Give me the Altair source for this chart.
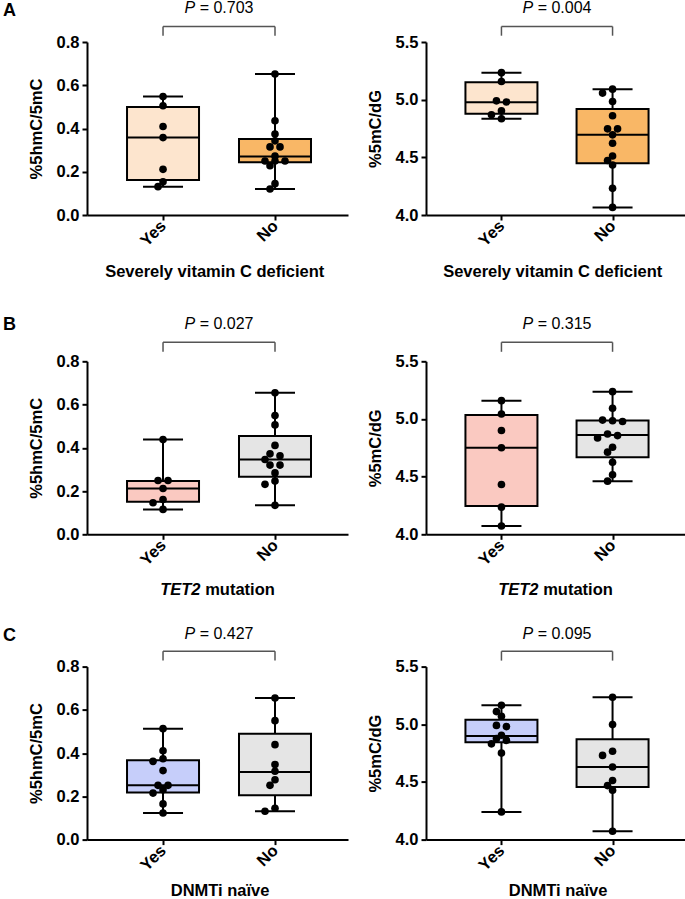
import altair as alt
import pandas as pd

FONT = "Liberation Sans"
categories = ["Yes", "No"]

# ---------------- data ----------------
# %5hmC/5mC
a_hmc_yes = [0.548, 0.505, 0.409, 0.358, 0.211, 0.154, 0.131]
a_hmc_no = [0.652, 0.436, 0.374, 0.343, 0.315, 0.315, 0.272, 0.250, 0.250, 0.250, 0.228, 0.145, 0.120]
b_hmc_yes = [0.438, 0.249, 0.249, 0.212, 0.161, 0.146, 0.115]
b_hmc_no = [0.654, 0.549, 0.506, 0.411, 0.372, 0.363, 0.346, 0.320, 0.320, 0.284, 0.246, 0.231, 0.134]
c_hmc_yes = [0.513, 0.411, 0.374, 0.362, 0.319, 0.251, 0.251, 0.231, 0.215, 0.165, 0.123]
c_hmc_no = [0.655, 0.550, 0.439, 0.347, 0.316, 0.277, 0.251, 0.145, 0.131]
# %5mC/dG
a_mc_yes = [5.234, 5.158, 4.990, 4.980, 4.903, 4.869, 4.834]
a_mc_no = [5.091, 5.057, 4.984, 4.860, 4.747, 4.747, 4.695, 4.622, 4.512, 4.472, 4.434, 4.231, 4.066]
b_mc_yes = [5.159, 5.043, 4.900, 4.750, 4.432, 4.236, 4.072]
b_mc_no = [5.237, 5.093, 4.990, 4.984, 4.978, 4.870, 4.856, 4.836, 4.755, 4.712, 4.625, 4.516, 4.461]
c_mc_yes = [5.164, 5.110, 5.069, 4.990, 4.980, 4.905, 4.876, 4.860, 4.830, 4.750, 4.240]
c_mc_no = [5.234, 4.997, 4.766, 4.730, 4.630, 4.512, 4.468, 4.428, 4.072]

# box statistics (q1, median, q3)
a_hmc_box = [(0.162, 0.358, 0.500), (0.244, 0.270, 0.352)]
b_hmc_box = [(0.150, 0.212, 0.247), (0.266, 0.346, 0.454)]
c_hmc_box = [(0.218, 0.251, 0.367), (0.205, 0.313, 0.490)]
a_mc_box = [(4.877, 4.978, 5.152), (4.449, 4.695, 4.918)]
b_mc_box = [(4.245, 4.750, 5.035), (4.669, 4.862, 4.986)]
c_mc_box = [(4.844, 4.899, 5.040), (4.457, 4.630, 4.870)]

p_values = {"A": ["0.703", "0.004"], "B": ["0.027", "0.315"], "C": ["0.427", "0.095"]}
x_titles = {
    "A": [("Severely vitamin C deficient", False)],
    "B": [("TET2", True), ("mutation", False)],
    "C": [("DNMTi naïve", False)],
}
fills = {
    "A": ["#FDE5CE", "#F9B766"],
    "B": ["#FAC9C1", "#E5E5E5"],
    "C": ["#C6CEFA", "#E5E5E5"],
}
metrics = {
    "hmc": {"title": "%5hmC/5mC", "domain": [0.0, 0.8], "ticks": [0.0, 0.2, 0.4, 0.6, 0.8]},
    "mc": {"title": "%5mC/dG", "domain": [4.0, 5.5], "ticks": [4.0, 4.5, 5.0, 5.5]},
}
groups = {
    ("A", "hmc"): (a_hmc_yes, a_hmc_no, a_hmc_box),
    ("A", "mc"): (a_mc_yes, a_mc_no, a_mc_box),
    ("B", "hmc"): (b_hmc_yes, b_hmc_no, b_hmc_box),
    ("B", "mc"): (b_mc_yes, b_mc_no, b_mc_box),
    ("C", "hmc"): (c_hmc_yes, c_hmc_no, c_hmc_box),
    ("C", "mc"): (c_mc_yes, c_mc_no, c_mc_box),
}

# ---------------- layout / style ----------------
XMIN, XMAX = -0.679, 1.652
W_L, W_R = 261, 259
H = 173
ROW_GAP = 132.3
BOX_HALF_PX = 36
CAP_HALF_PX = 20
DOT_SIZE = 58
TICK_FONT = 16.5
# top inset of the plot inside its cell (row B is pushed down a little)
row_cfg = {
    "A": {"inset": 0, "p_base": -29, "br_top": -15.5, "br_bot": -6.3, "letter_base": -25.7, "xt": 62},
    "B": {"inset": 14, "p_base": -32.5, "br_top": -19, "br_bot": -9.5, "letter_base": -31, "xt": 61},
    "C": {"inset": 0, "p_base": -27.5, "br_top": -15.3, "br_bot": -6.0, "letter_base": -25.3, "xt": 56.5},
}

REG = {"P": 667, "=": 584, " ": 278, ".": 278}
BOLD = {"T": 611, "E": 667, "2": 556, " ": 278, "m": 889, "u": 611, "t": 333,
        "a": 556, "i": 278, "o": 611, "n": 611}


def tw(s, size, table):
    return sum(table.get(ch, 556) for ch in s) * size / 1000.0


def swarm_offsets(vals, ppu_y, d=6.6):
    ys = [v * ppu_y for v in vals]
    order = sorted(range(len(vals)), key=lambda i: -vals[i])
    offs = [0.0] * len(vals)
    placed = []
    i = 0
    while i < len(order):
        j = i
        while j + 1 < len(order) and abs(ys[order[j + 1]] - ys[order[i]]) < 2.5:
            j += 1
        grp = order[i:j + 1]
        k = len(grp)
        if k > 1:
            for n, idx in enumerate(grp):
                offs[idx] = (n - (k - 1) / 2.0) * 10.0
                placed.append((offs[idx], ys[idx]))
        else:
            idx = grp[0]
            chosen = 0.0
            for c in [0, -5, 5, -10, 10, -15, 15, -20, 20]:
                if all((c - px) ** 2 + (ys[idx] - py) ** 2 >= d * d for px, py in placed):
                    chosen = c
                    break
            offs[idx] = chosen
            placed.append((chosen, ys[idx]))
        i = j + 1
    return offs


def text_layers(parts, cx, y, size, weight, table):
    widths = [tw(t, size, table) for t, _ in parts]
    space = tw(" ", size, table)
    total = sum(widths) + space * (len(parts) - 1)
    x = cx - total / 2.0
    out = []
    for (t, italic), w in zip(parts, widths):
        out.append(
            alt.Chart(pd.DataFrame({"t": [t]})).mark_text(
                align="left", baseline="alphabetic", font=FONT, fontSize=size,
                fontWeight=weight, fontStyle="italic" if italic else "normal", color="black"
            ).encode(x=alt.value(x), y=alt.value(y), text="t:N")
        )
        x += w + space
    return out


def build_panel(row, metric, col):
    W = W_L if col == 0 else W_R
    yes, no, box = groups[(row, metric)]
    m = metrics[metric]
    cfg = row_cfg[row]
    top = cfg["inset"]
    GH = H + top
    ppu_x = W / (XMAX - XMIN)
    ppu_y = H / (m["domain"][1] - m["domain"][0])

    xs = alt.Scale(domain=[XMIN, XMAX], nice=False, zero=False)
    ys = alt.Scale(domain=m["domain"], nice=False, zero=False, range=[GH, top])
    label_expr = "datum.value == 0 ? '%s' : '%s'" % (categories[0], categories[1])
    common = dict(labelFont=FONT, labelFontSize=TICK_FONT, labelFontWeight="bold", labelColor="black",
                  tickSize=5, tickWidth=2, tickColor="black", domainColor="black", domainWidth=2,
                  grid=False, labelPadding=3)
    xaxis = alt.Axis(values=[0, 1], labelExpr=label_expr, labelAngle=315, labelAlign="right",
                     labelBaseline="middle", labelOverlap=False, **common)
    yaxis = alt.Axis(values=m["ticks"], format=".1f", titleX=-43, titleY=top + H / 2.0,
                     titleFont=FONT, titleFontSize=16.5, titleFontWeight="bold", titleColor="black",
                     **common)

    def X(f):
        return alt.X(f, scale=xs, axis=xaxis, title=None)

    def Y(f):
        return alt.Y(f, scale=ys, axis=yaxis, title=m["title"])

    brows, caps, dots = [], [], []
    for i, (vals, bx) in enumerate([(yes, box[0]), (no, box[1])]):
        brows.append(dict(cat=categories[i], xc=i,
                          x1=i - BOX_HALF_PX / ppu_x, x2=i + BOX_HALF_PX / ppu_x,
                          lo=min(vals), hi=max(vals), q1=bx[0], med=bx[1], q3=bx[2],
                          fill=fills[row][i]))
        for v in (min(vals), max(vals)):
            caps.append(dict(c1=i - CAP_HALF_PX / ppu_x, c2=i + CAP_HALF_PX / ppu_x, v=v))
        offs = swarm_offsets(vals, ppu_y)
        for v, o in zip(vals, offs):
            dots.append(dict(xd=i + o / ppu_x, v=v))
    bdf = pd.DataFrame(brows)
    cdf = pd.DataFrame(caps)
    ddf = pd.DataFrame(dots)

    layers = [
        alt.Chart(bdf).mark_rule(color="black", strokeWidth=2).encode(x=X("xc:Q"), y=Y("lo:Q"), y2="hi:Q"),
        alt.Chart(cdf).mark_rule(color="black", strokeWidth=2).encode(x=X("c1:Q"), x2="c2:Q", y=Y("v:Q")),
        alt.Chart(bdf).mark_rect(stroke="black", strokeWidth=2).encode(
            x=X("x1:Q"), x2="x2:Q", y=Y("q1:Q"), y2="q3:Q", fill=alt.Fill("fill:N", scale=None)),
        alt.Chart(bdf).mark_rule(color="black", strokeWidth=2).encode(x=X("x1:Q"), x2="x2:Q", y=Y("med:Q")),
        alt.Chart(ddf).mark_circle(size=DOT_SIZE, color="black", opacity=1).encode(x=X("xd:Q"), y=Y("v:Q")),
        # significance bracket
        alt.Chart(pd.DataFrame({"a": [0], "b": [1]})).mark_rule(color="#555555", strokeWidth=1.5).encode(
            x=X("a:Q"), x2="b:Q", y=alt.value(top + cfg["br_top"])),
        alt.Chart(pd.DataFrame({"a": [0, 1]})).mark_rule(color="#555555", strokeWidth=1.5).encode(
            x=X("a:Q"), y=alt.value(top + cfg["br_top"]), y2=alt.value(top + cfg["br_bot"])),
    ]
    cx_mid = (0.5 - XMIN) * ppu_x
    layers += text_layers([("P", True), ("= " + p_values[row][col], False)], cx_mid,
                          top + cfg["p_base"], 16, "normal", REG)
    layers += text_layers(x_titles[row], W / 2.0, GH + cfg["xt"], 16.5, "bold", BOLD)
    if col == 0:
        layers.append(
            alt.Chart(pd.DataFrame({"t": [row]})).mark_text(
                align="left", baseline="alphabetic", font=FONT, fontSize=18, fontWeight="bold", color="black"
            ).encode(x=alt.value(-84), y=alt.value(top + cfg["letter_base"]), text="t:N")
        )
    if row == "A" and col == 0:
        layers.append(
            alt.Chart(pd.DataFrame({"a": [0]})).mark_rule(color="white", strokeWidth=1).encode(
                x=alt.value(-86.5), x2=alt.value(-80), y=alt.value(-40.2))
        )
    return alt.layer(*layers).properties(width=W, height=GH)


panels = []
for r in ["A", "B", "C"]:
    panels.append(build_panel(r, "hmc", 0))
    panels.append(build_panel(r, "mc", 1))

chart = alt.concat(*panels, columns=2, spacing={"row": ROW_GAP, "column": 78}, bounds="flush").properties(
    padding=0, background="white"
).configure_view(stroke=None)

chart.save("out.html", embed_options={"renderer": "svg", "actions": False})
